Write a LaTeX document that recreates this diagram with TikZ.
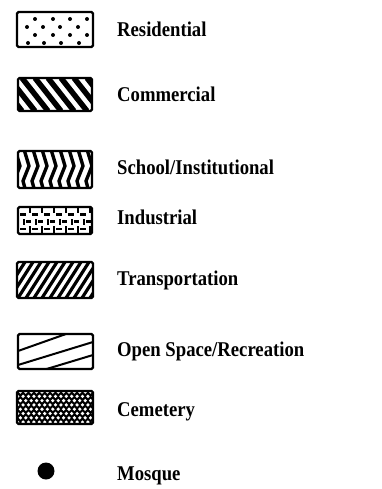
\documentclass[tikz,border=0pt]{standalone}
\usepackage{fontspec}
\setmainfont{Liberation Serif}[FakeStretch=0.89]
\begin{document}
\begin{tikzpicture}[x=1pt,y=-1pt,
  box/.style={draw=black, line width=2.4pt, rounded corners=1.5pt},
  lbl/.style={anchor=base west, inner sep=0pt, font=\fontsize{21}{25}\selectfont\bfseries},
  ink/.style={line cap=butt}]
\useasboundingbox (0,0) rectangle (381,489);

% Residential
\begin{scope}
\clip (17,12) rectangle (93,47);
\foreach \x in {35,53,70,87} {\fill (\x,19) circle (2); \fill (\x,35) circle (2);}
\foreach \x in {27,43,60,78} {\fill (\x,27) circle (2); \fill (\x+1,43) circle (2);}
\end{scope}
\draw[box] (17,12) rectangle (93,47);
\node[lbl] (tres) at (117,37) {Residential};

% Commercial
\begin{scope}
\clip (18,78) rectangle (92,111);
\foreach \i in {-30,-17,...,100} \draw[line width=5.5pt] (\i,78) -- (\i+26,111);
\end{scope}
\draw[box] (18,78) rectangle (92,111);
\node[lbl] (tcom) at (117,102) {Commercial};

% School / Institutional
\begin{scope}
\clip (18,151) rectangle (92,188);
\foreach \i in {14,23,...,100} \draw[line width=3.4pt, line join=round] (\i,146) -- (\i+6,166) -- (\i,181) -- (\i+3,192);
\end{scope}
\draw[box] (18,151) rectangle (92,188);
\node[lbl] (tsch) at (117,175) {School/Institutional};

% Industrial
\begin{scope}
\clip (18,207) rectangle (92,234);
\foreach \x in {18,30,...,96} {
  \draw[line width=2.6pt] (\x,207) -- (\x,213);
  \draw[line width=2.6pt] (\x+6,219) -- (\x+6,225);
  \draw[line width=2.6pt] (\x,226) -- (\x,234);
  \draw[line width=2.6pt] (\x+2,214.5) -- (\x+8,214.5);
  \draw[line width=2.6pt] (\x+8,221.5) -- (\x+13,221.5);
  \draw[line width=2.6pt] (\x+2,229) -- (\x+8,229);
}
\end{scope}
\draw[box] (18,207) rectangle (92,234);
\node[lbl] (tind) at (117,224) {Industrial};

% Transportation
\begin{scope}
\clip (17,262) rectangle (93,298);
\foreach \i in {-30,-22,...,100} \draw[line width=3.2pt] (\i,298) -- (\i+23,262);
\end{scope}
\draw[box] (17,262) rectangle (93,298);
\node[lbl] (ttra) at (117,285) {Transportation};

% Open Space / Recreation
\begin{scope}
\clip (18,334) rectangle (93,369);
\draw[line width=2pt] (18,351) -- (66,334);
\draw[line width=2pt] (18,365) -- (93,342);
\draw[line width=2pt] (40,371) -- (93,355);
\end{scope}
\draw[box] (18,334) rectangle (93,369);
\node[lbl] (topn) at (117,356) {Open Space/Recreation};

% Cemetery
\begin{scope}
\clip (17,391) rectangle (93,424);
\fill (17,391) rectangle (93,424);
\foreach \r in {0,...,8} {
  \foreach \c in {0,...,15} {
    \pgfmathsetmacro{\xx}{15+\c*5.4+mod(\r,2)*2.7}
    \fill[white] (\xx,392+\r*4.3) circle (1.8);
  }
}
\end{scope}
\draw[box] (17,391) rectangle (93,424);
\node[lbl] (tcem) at (117,416) {Cemetery};

% Mosque
\fill (46,471) circle (8.5);
\node[lbl] (tmos) at (117,480) {Mosque};
\end{tikzpicture}
\end{document}
